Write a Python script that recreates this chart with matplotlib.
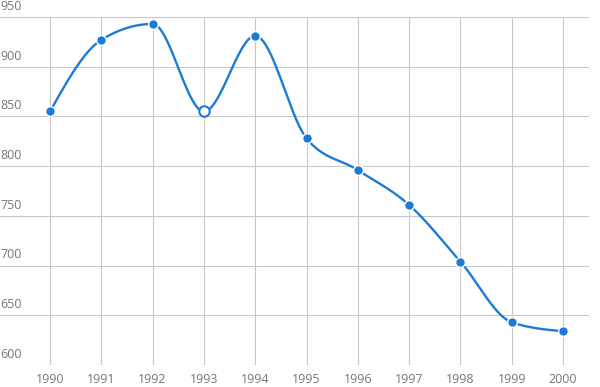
import numpy as np
import matplotlib.pyplot as plt
from matplotlib.transforms import blended_transform_factory, offset_copy

plt.rcParams['font.family'] = ['Open Sans', 'DejaVu Sans']

# --- data ---
years = [1990, 1991, 1992, 1993, 1994, 1995, 1996, 1997, 1998, 1999, 2000]
values = [855, 927, 943, 855, 931, 828, 796, 761, 704, 643, 634]
hollow_year = 1993
y_ticks = [600, 650, 700, 750, 800, 850, 900, 950]

LINE = '#1b7bd6'
GRID = '#c8c8c8'
TXT = '#777777'


def monotone_curve(x, y, n=40):
    # monotone cubic (Fritsch-Carlson / d3 monotoneX style) for a smooth line
    x = np.asarray(x, float); y = np.asarray(y, float)
    h = np.diff(x); d = np.diff(y) / h
    m = np.zeros_like(y)
    for i in range(1, len(y) - 1):
        if d[i - 1] * d[i] <= 0:
            m[i] = 0
        else:
            s = (d[i - 1] * h[i] + d[i] * h[i - 1]) / (h[i - 1] + h[i])
            m[i] = np.sign(d[i]) * min(abs(s), 2 * abs(d[i - 1]), 2 * abs(d[i]))
    m[0] = (3 * d[0] - m[1]) / 2
    m[-1] = (3 * d[-1] - m[-2]) / 2
    xs, ys = [], []
    for i in range(len(h)):
        t = np.linspace(0, 1, n)
        h00 = 2*t**3 - 3*t**2 + 1; h10 = t**3 - 2*t**2 + t
        h01 = -2*t**3 + 3*t**2; h11 = t**3 - t**2
        xs.append(x[i] + t * h[i])
        ys.append(h00*y[i] + h10*h[i]*m[i] + h01*y[i+1] + h11*h[i]*m[i+1])
    return np.concatenate(xs), np.concatenate(ys)


fig = plt.figure(figsize=(6, 3.87), dpi=100)
ax = fig.add_axes([0, 1 - 365/387, 589/600, (365 - 17)/387])

ax.set_xlim(1989.025, 2000.507)
ax.set_ylim(600, 950)

cx, cy = monotone_curve(years, values)
ax.plot(cx, cy, color=LINE, lw=1.7, zorder=3)

for yr, v in zip(years, values):
    face = 'white' if yr == hollow_year else LINE
    edge = LINE if yr == hollow_year else 'white'
    ax.plot(yr, v, 'o', ms=7.5 if yr == hollow_year else 7, mfc=face, mec=edge,
            mew=1.5 if yr == hollow_year else 1.0, zorder=4, clip_on=False)

for s in ax.spines.values():
    s.set_visible(False)
ax.set_yticks(y_ticks)
ax.set_xticks(years)
ax.grid(True, color=GRID, lw=0.8)
ax.set_axisbelow(True)
ax.tick_params(length=0, labelleft=False, labelsize=9, colors=TXT, pad=6)
ax.set_xticklabels([str(y) for y in years])

trans = offset_copy(blended_transform_factory(fig.transFigure, ax.transData),
                    fig=fig, x=0, y=3, units='points')
for t in y_ticks:
    ax.text(0.0, t, str(t), transform=trans, ha='left', va='bottom',
            fontsize=9, color=TXT)

fig.savefig('out.png', dpi=100)
